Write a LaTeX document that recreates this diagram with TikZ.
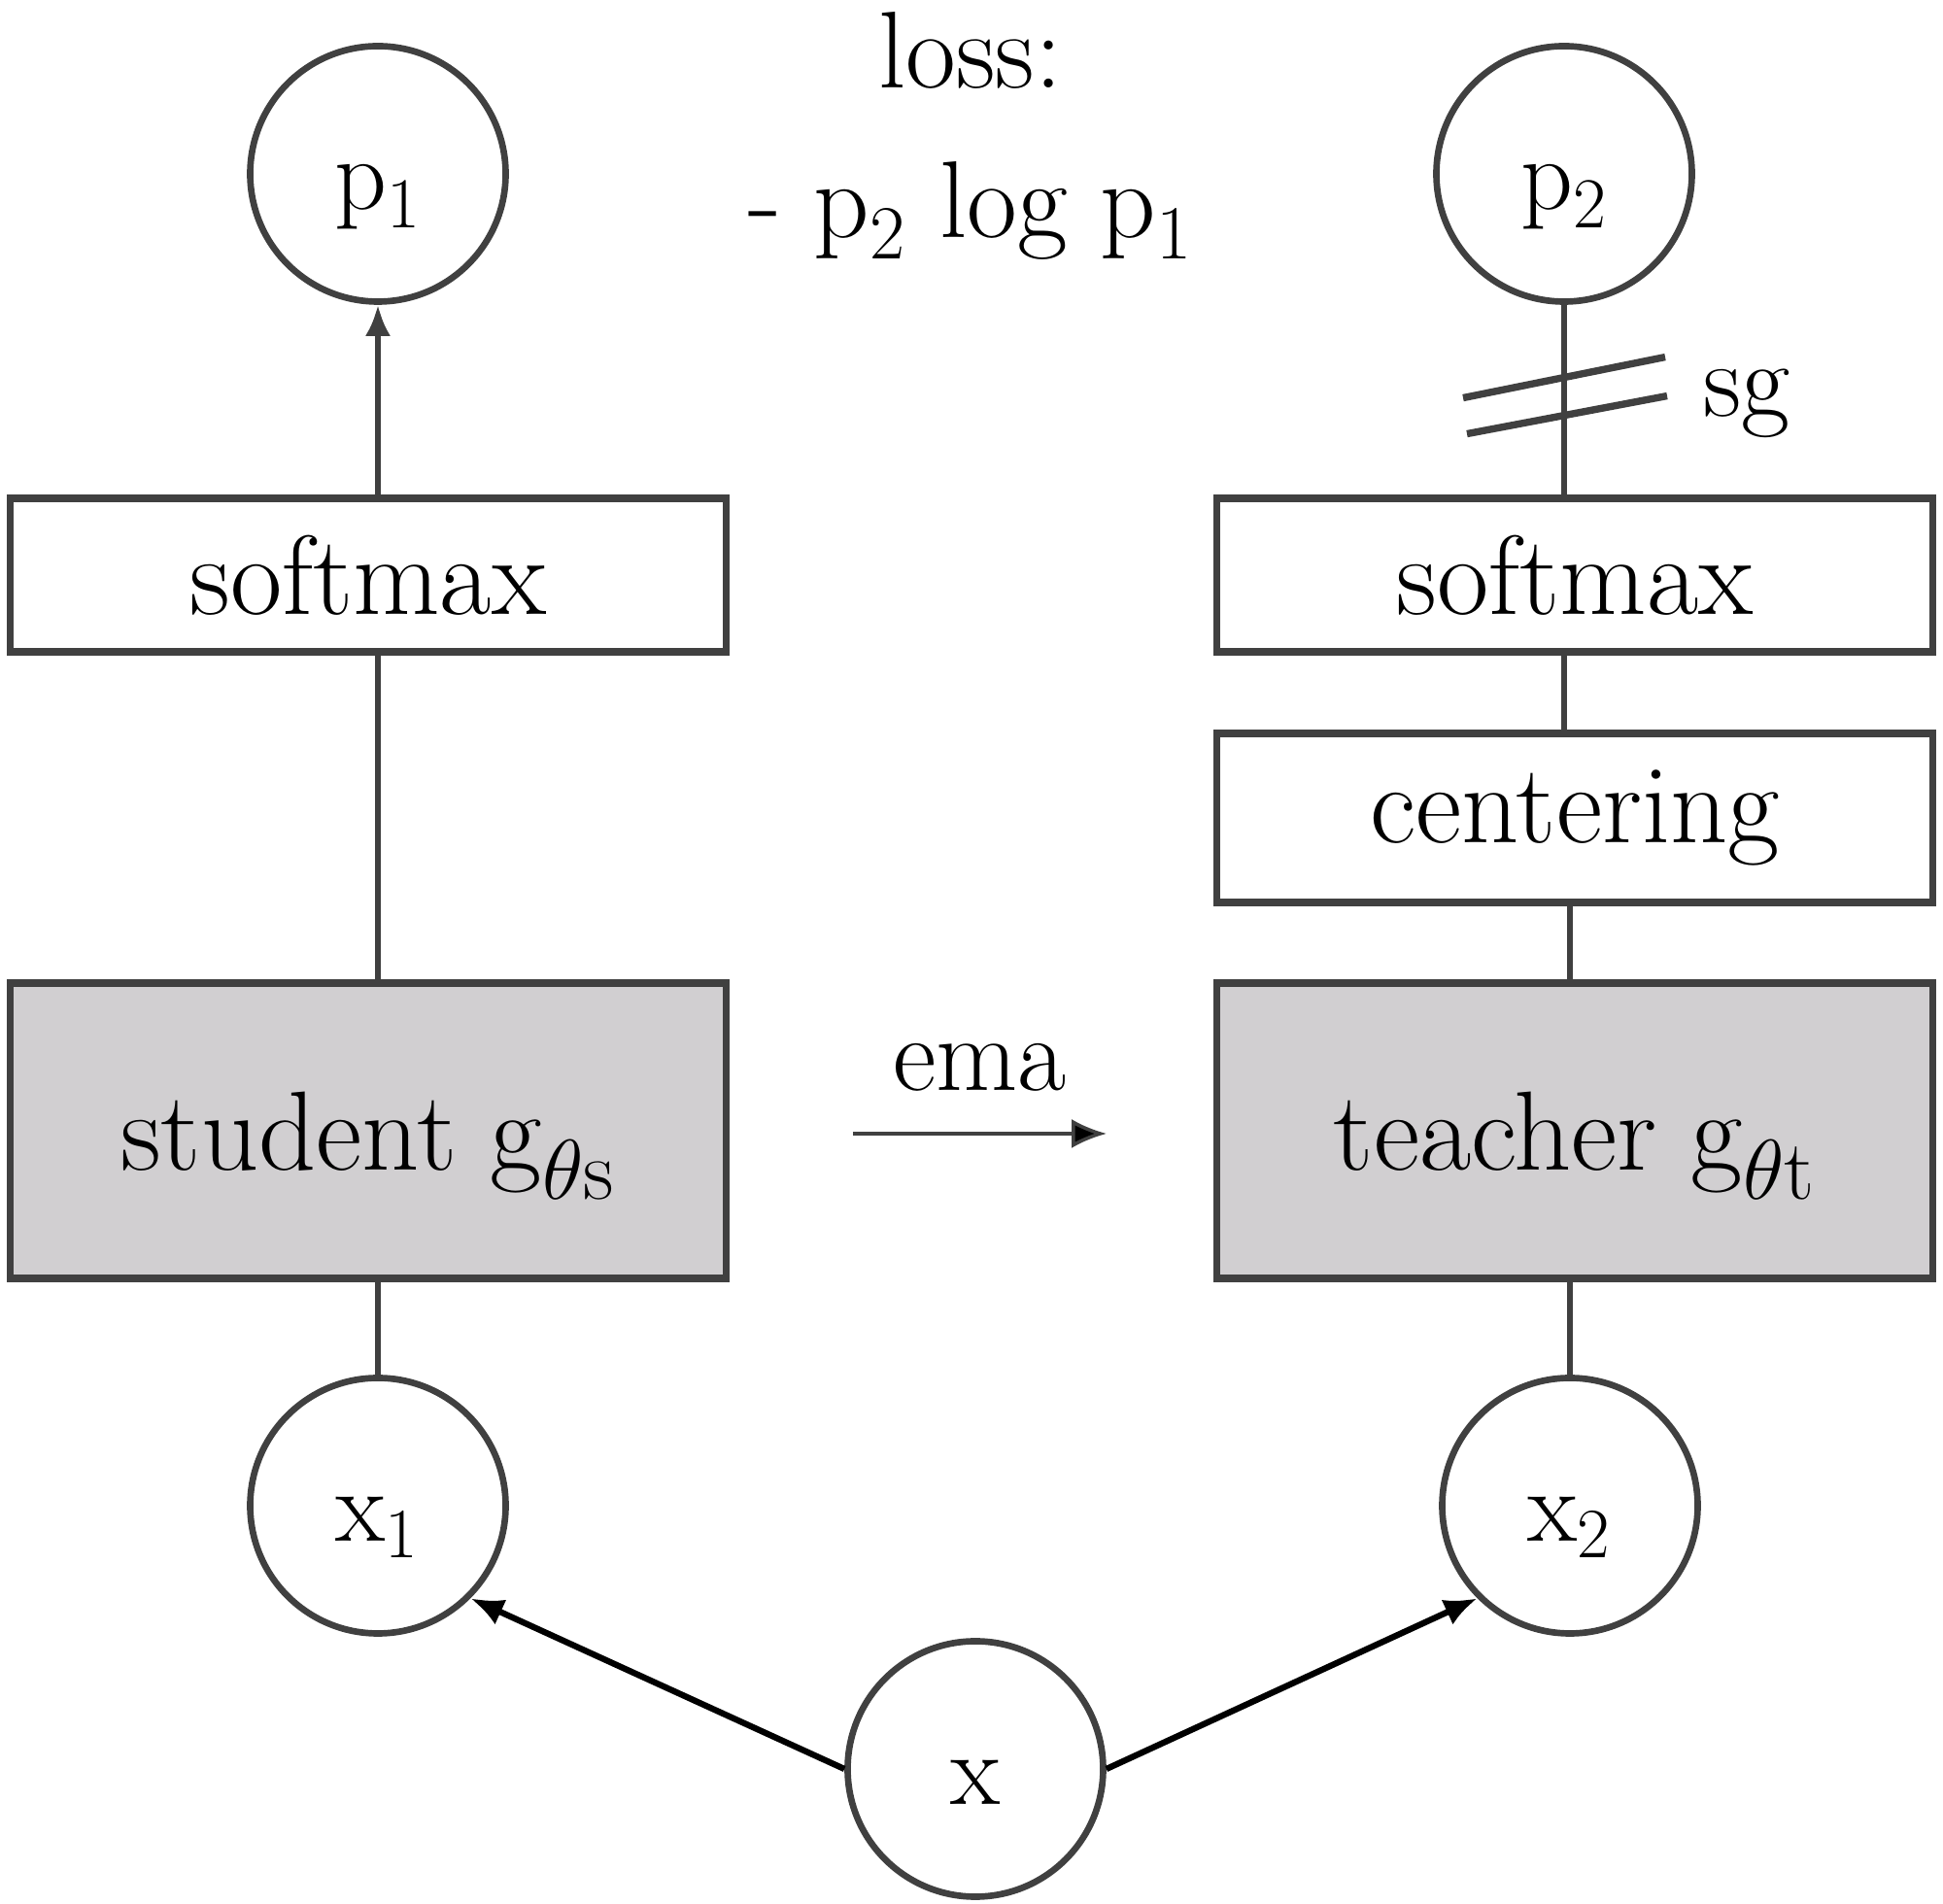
\documentclass[tikz,border=0pt]{standalone}
\usetikzlibrary{shapes, arrows.meta}
\definecolor{linegray}{HTML}{404040}
\definecolor{netgray}{HTML}{D1CFD1}
\tikzstyle{var} = [circle, minimum size=2.63cm, inner sep=0pt, text height=0.85cm, text depth=0.12cm, draw=linegray, line width=1.9pt, font=\fontsize{30}{34}\selectfont]
\tikzstyle{layer} = [rectangle, minimum width=7.37cm, minimum height=1.58cm, text centered, draw=linegray, line width=2.2pt, fill=white, font=\fontsize{33}{38}\selectfont]
\tikzstyle{net} = [layer, minimum height=3.04cm, text depth=0cm, fill=netgray]
\tikzstyle{txt} = [font=\fontsize{32}{44}\selectfont, align=center]
\tikzstyle{link} = [draw=linegray, line width=1.6pt]
\tikzstyle{edge} = [line width=1.8pt, -{Latex[length=0.34cm, width=0.28cm]}]

\begin{document}
\begin{tikzpicture}

\useasboundingbox (0,0) rectangle (20,19.6);

\node (p1) [var] at (3.89,17.81) {p\textsubscript{1}};
\node (p2) [var] at (16.10,17.81) {p\textsubscript{2}};
\node (loss) [txt] at (9.99,18.2) {loss:\\- p\textsubscript{2} log p\textsubscript{1}};
\node (sm1) [layer] at (3.79,13.68) {softmax};
\node (sm2) [layer] at (16.21,13.68) {softmax};
\node (ctr) [layer, minimum height=1.74cm] at (16.21,11.18) {centering};
\node (stu) [net] at (3.79,7.96) {student g$_{\theta\mathrm{s}}$};
\node (tea) [net] at (16.21,7.96) {teacher g$_{\theta\mathrm{t}}$};
\node (x1) [var] at (3.89,4.10) {x$_1$};
\node (x2) [var] at (16.16,4.10) {x$_2$};
\node (x) [var] at (10.04,1.39) {x};
\coordinate (emaL) at (8.78,7.93);
\coordinate (emaR) at (11.39,7.93);

\draw [link, -{Latex[length=0.32cm, width=0.26cm]}] (p1 |- sm1.north) -- (p1);
\draw [link] (p1 |- stu.north) -- (p1 |- sm1.south);
\draw [link] (x1) -- (x1 |- stu.south);
\draw [link] (p2) -- coordinate[pos=0.48] (sg) (p2 |- sm2.north);
\draw [link] (p2 |- sm2.south) -- (p2 |- ctr.north);
\draw [link] (x2 |- ctr.south) -- (x2 |- tea.north);
\draw [link] (x2) -- (x2 |- tea.south);
\draw [link, line width=2.1pt] ([shift={(-1.04,-0.02)}]sg) -- ([shift={(1.04,0.40)}]sg);
\draw [link, line width=2.1pt] ([shift={(-1.00,-0.39)}]sg) -- ([shift={(1.06,0.0)}]sg);
\node (sglbl) [txt, font=\fontsize{31}{36}\selectfont] at (17.98,15.45) {sg};
\draw [link, line width=1pt, -{Latex[length=0.36cm, width=0.3cm, fill=black]}] (emaL) -- node[txt, font=\fontsize{31}{36}\selectfont, above=0.3cm]{ema} (emaR);
\draw [edge] (x.west) -- (x1.south east);
\draw [edge] (x.east) -- (x2.south west);

\end{tikzpicture}
\end{document}
